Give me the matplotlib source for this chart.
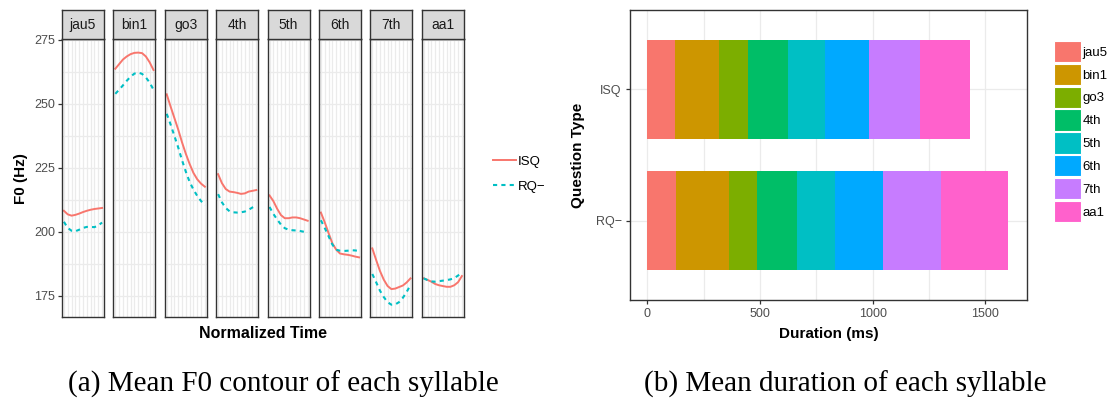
import numpy as np
import matplotlib
matplotlib.use("Agg")
import matplotlib.pyplot as plt
from matplotlib.patches import Patch
from matplotlib.lines import Line2D

plt.rcParams['font.family'] = ['Liberation Sans', 'DejaVu Sans']

# --- Data -----------------------------------------------------------

syllables = ["jau5", "bin1", "go3", "4th", "5th", "6th", "7th", "aa1"]
norm_time = [0.0, 0.1, 0.2, 0.3, 0.4, 0.5, 0.6, 0.7, 0.8, 0.9, 1.0]

f0_isq = {
    "jau5": [208.2, 206.8, 206.3, 206.6, 207.1, 207.7, 208.2, 208.6, 208.9, 209.1, 209.3],
    "bin1": [263.7, 265.5, 267.3, 268.5, 269.4, 269.9, 270.0, 269.8, 268.5, 266.2, 263.2],
    "go3":  [253.7, 249.0, 244.5, 240.0, 235.0, 230.5, 226.5, 223.0, 220.5, 218.8, 217.6],
    "4th":  [222.5, 219.0, 216.7, 215.7, 215.5, 215.2, 214.8, 215.0, 215.7, 216.0, 216.3],
    "5th":  [214.2, 212.0, 209.0, 206.5, 205.3, 205.3, 205.6, 205.6, 205.3, 204.8, 204.3],
    "6th":  [207.5, 203.7, 199.5, 195.5, 193.0, 191.5, 191.2, 191.0, 190.7, 190.3, 190.0],
    "7th":  [193.5, 189.0, 184.7, 181.3, 178.8, 177.6, 177.8, 178.4, 179.0, 180.2, 181.8],
    "aa1":  [181.8, 181.2, 180.5, 179.6, 179.1, 178.8, 178.5, 178.5, 179.1, 180.3, 182.7],
}
f0_rq = {
    "jau5": [203.9, 201.5, 200.4, 200.2, 200.8, 201.5, 201.9, 201.9, 201.8, 202.5, 203.6],
    "bin1": [253.9, 255.5, 257.2, 259.0, 260.6, 261.8, 262.2, 261.7, 260.3, 258.3, 255.5],
    "go3":  [246.1, 242.0, 237.5, 233.0, 228.0, 223.5, 219.5, 216.5, 214.0, 212.0, 210.3],
    "4th":  [214.7, 211.5, 209.3, 208.0, 207.6, 207.5, 207.6, 207.9, 208.6, 209.5, 210.2],
    "5th":  [209.7, 207.0, 204.8, 202.8, 201.4, 200.8, 200.6, 200.5, 200.3, 200.0, 199.6],
    "6th":  [204.5, 201.5, 198.3, 195.0, 193.0, 192.6, 192.5, 192.6, 192.8, 192.7, 192.5],
    "7th":  [183.5, 180.3, 177.0, 174.5, 172.5, 171.5, 171.6, 172.5, 174.2, 176.5, 179.2],
    "aa1":  [181.8, 181.1, 180.6, 180.5, 180.7, 180.9, 181.1, 181.4, 181.9, 182.9, 184.1],
}

question_types = ["RQ\u2212", "ISQ"]
dur_isq = [123, 195, 127, 178, 166, 195, 224, 223]
dur_rq = [126, 236, 124, 176, 170, 216, 255, 299]

seg_colors = ["#F8766D", "#CD9600", "#7CAE00", "#00BE67",
              "#00BFC4", "#00A9FF", "#C77CFF", "#FF61CC"]
ISQ_COL = "#F8766D"
RQ_COL = "#00BFC4"
GRID = "#EBEBEB"
EDGE = "#333333"
TICK = "#4D4D4D"

W, H = 1107, 401
fig = plt.figure(figsize=(W / 100, H / 100), dpi=100)


def px_axes(x0, y0, x1, y1):
    # pixel box (top-left origin) -> figure axes
    return fig.add_axes([x0 / W, 1 - y1 / H, (x1 - x0) / W, (y1 - y0) / H])


# --- (a) F0 contours -----------------------------------------------

panel_w = 42
panel_step = 51.4
for i, syl in enumerate(syllables):
    x0 = 62 + i * panel_step
    ax = px_axes(x0, 39.3, x0 + panel_w, 317)
    ax.set_xlim(-0.05, 1.05)
    ax.set_ylim(166.7, 275.2)
    ax.set_xticks(np.arange(0, 1.01, 0.1))
    ax.set_yticks([175, 200, 225, 250, 275])
    ax.set_yticks([187.5, 212.5, 237.5, 262.5], minor=True)
    ax.grid(True, which="both", color=GRID, lw=0.9)
    ax.set_axisbelow(True)
    ax.tick_params(axis="x", bottom=False, labelbottom=False)
    ax.tick_params(axis="y", which="minor", left=False)
    if i == 0:
        ax.tick_params(axis="y", length=3, width=0.9, color=EDGE,
                       labelsize=9, labelcolor=TICK, pad=2)
        ax.set_ylabel("F0 (Hz)", fontsize=11, fontweight="bold", labelpad=4)
    else:
        ax.tick_params(axis="y", left=False, labelleft=False)
    for s in ax.spines.values():
        s.set_color(EDGE)
        s.set_linewidth(1.0)
    ax.plot(norm_time, f0_isq[syl], color=ISQ_COL, lw=1.4)
    ax.plot(norm_time, f0_rq[syl], color=RQ_COL, lw=1.5, dashes=(2, 2))

    # facet strip
    st = px_axes(x0, 10.3, x0 + panel_w, 39.3)
    st.set_facecolor("#D9D9D9")
    st.set_xticks([])
    st.set_yticks([])
    for s in st.spines.values():
        s.set_color(EDGE)
        s.set_linewidth(1.0)
    st.text(0.5, 0.5, syl, ha="center", va="center", fontsize=10,
            color="#1A1A1A", transform=st.transAxes)

fig.text(263 / W, 1 - 334 / H, "Normalized Time", ha="center", va="center",
         fontsize=11.5, fontweight="bold")

line_handles = [Line2D([], [], color=ISQ_COL, lw=1.4),
                Line2D([], [], color=RQ_COL, lw=1.5, dashes=(2, 2))]
fig.legend(line_handles, ["ISQ", "RQ\u2212"], loc="upper left",
           bbox_to_anchor=(488 / W, 1 - 150 / H), frameon=False,
           fontsize=9.5, handlelength=1.7, handletextpad=0.15,
           labelspacing=1.0, borderaxespad=0)

# --- (b) durations --------------------------------------------------

axb = px_axes(630, 10, 1027, 300)
ypos = np.arange(len(question_types))
durations = {"RQ\u2212": dur_rq, "ISQ": dur_isq}
left = np.zeros(len(question_types))
for k, syl in enumerate(syllables):
    vals = np.array([durations[q][k] for q in question_types])
    axb.barh(ypos, vals, left=left, height=0.75, color=seg_colors[k],
             label=syl, zorder=2)
    left += vals

axb.set_xlim(-77, 1685)
axb.set_ylim(-0.6, 1.6)
axb.set_xticks([0, 500, 1000, 1500])
axb.set_xticks([250, 750, 1250], minor=True)
axb.set_yticks(ypos)
axb.set_yticklabels(question_types)
axb.grid(True, which="both", color=GRID, lw=0.9)
axb.set_axisbelow(True)
axb.tick_params(axis="both", length=3, width=0.9, color=EDGE,
                labelsize=9, labelcolor=TICK, pad=3)
axb.tick_params(which="minor", length=0)
for s in axb.spines.values():
    s.set_color(EDGE)
    s.set_linewidth(1.0)
axb.set_xlabel("Duration (ms)", fontsize=11, fontweight="bold", labelpad=5)
axb.set_ylabel("Question Type", fontsize=11, fontweight="bold", labelpad=8)

patch_handles = [Patch(facecolor=c, edgecolor="white", lw=0.8) for c in seg_colors]
fig.legend(patch_handles, syllables, loc="upper left",
           bbox_to_anchor=(1054 / W, 1 - 41 / H), frameon=False,
           fontsize=9.5, handlelength=2.05, handleheight=2.1,
           handletextpad=0.1, labelspacing=0.12, borderaxespad=0,
           borderpad=0)

# --- captions -------------------------------------------------------

fig.text(283.5 / W, 1 - 384 / H, "(a) Mean F0 contour of each syllable",
         ha="center", va="center", fontsize=21, family="Liberation Serif")
fig.text(845 / W, 1 - 384 / H, "(b) Mean duration of each syllable",
         ha="center", va="center", fontsize=21, family="Liberation Serif")

fig.savefig("out.png", dpi=100)
